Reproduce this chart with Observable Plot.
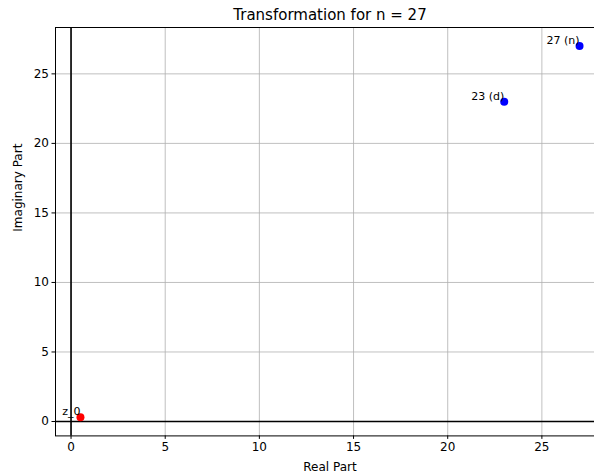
<!DOCTYPE html>
<html>
<head>
<meta charset="utf-8">
<script src="https://cdn.jsdelivr.net/npm/d3@7"></script>
<script src="https://cdn.jsdelivr.net/npm/@observablehq/plot@0.6"></script>
<style>
  html, body { margin: 0; padding: 0; background: #fff; overflow: hidden; }
  #chart { width: 594px; height: 475px; overflow: hidden; }
  #chart svg { max-width: none !important; }
</style>
</head>
<body>
<div id="chart"></div>
<script>
const title = "Transformation for n = 27";
const xLabel = "Real Part";
const yLabel = "Imaginary Part";
const pointLabels = ["z_0", "23 (d)", "27 (n)"];
const realParts = [0.5, 23, 27];
const imagParts = [0.3, 23, 27];
const pointColors = ["red", "blue", "blue"];
const xTicks = [0, 5, 10, 15, 20, 25];
const yTicks = [0, 5, 10, 15, 20, 25];

const points = pointLabels.map((label, i) => ({
  label, re: realParts[i], im: imagParts[i], color: pointColors[i]
}));

const font = "DejaVu Sans, sans-serif";

const chart = Plot.plot({
  width: 604,
  height: 475,
  marginLeft: 55,
  marginRight: 0,
  marginTop: 27,
  marginBottom: 39.6,
  style: { fontFamily: font, color: "black", background: "white", overflow: "visible", maxWidth: "none" },
  x: { domain: [-0.825, 28.325] },
  y: { domain: [-1.035, 28.335] },
  marks: [
    Plot.gridX(xTicks, { stroke: "#b0b0b0", strokeOpacity: 1, strokeWidth: 0.8 }),
    Plot.gridY(yTicks, { stroke: "#b0b0b0", strokeOpacity: 1, strokeWidth: 0.8 }),
    Plot.ruleX([0], { stroke: "black", strokeWidth: 1.6 }),
    Plot.ruleY([0], { stroke: "black", strokeWidth: 1.6 }),
    Plot.frame({ stroke: "black", strokeWidth: 1 }),
    Plot.axisX(xTicks, { tickSize: 3.5, tickPadding: 3, fontSize: 12, label: null, stroke: "black" }),
    Plot.axisY(yTicks, { tickSize: 3.5, tickPadding: 3, fontSize: 12, label: null, stroke: "black" }),
    Plot.dot(points, { x: "re", y: "im", fill: "color", r: 4, stroke: null }),
    Plot.text(points, { x: "re", y: "im", text: "label", textAnchor: "end", lineAnchor: "bottom", dy: -2, fontSize: 11, fill: "black" }),
    Plot.text([title], { frameAnchor: "top", dy: -12, lineAnchor: "middle", fontSize: 15, fill: "black" }),
    Plot.text([xLabel], { frameAnchor: "bottom", dy: 31, lineAnchor: "middle", fontSize: 12, fill: "black" }),
    Plot.text([yLabel], { frameAnchor: "left", dx: -37, rotate: -90, lineAnchor: "middle", fontSize: 12, fill: "black" })
  ]
});
document.getElementById("chart").appendChild(chart);
</script>
</body>
</html>
